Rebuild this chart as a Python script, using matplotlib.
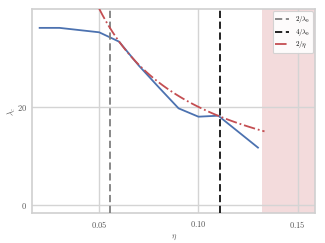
import numpy as np
import matplotlib
matplotlib.use("Agg")
import matplotlib.pyplot as plt

eta = [0.02, 0.03, 0.05, 0.06, 0.07, 0.08, 0.09, 0.10, 0.11, 0.13]
lam_c = [36.1, 36.1, 35.2, 33.3, 28.4, 24.0, 19.7, 18.0, 18.2, 11.7]
lam0 = 36.0
eta_curve = np.linspace(0.05, 0.1333, 50)
xticks = [0.05, 0.10, 0.15]
xticklabels = ["0.05", "0.10", "0.15"]
yticks = [0, 20]
shade_start = 0.132

plt.rcParams.update({
    "font.family": "serif",
    "font.serif": ["DejaVu Serif"],
    "mathtext.fontset": "cm",
    "axes.edgecolor": "#d0d0d0",
    "axes.linewidth": 1.2,
    "grid.color": "#d4d4d4",
    "grid.linewidth": 1.0,
})

fig = plt.figure(figsize=(3.25, 2.43), dpi=100)
ax = fig.add_axes([0.0994, 0.122, 0.8696, 0.84])

ax.axvspan(shade_start, 0.16, color="#c44e52", alpha=0.2, lw=0, zorder=0)
ax.plot(eta, lam_c, color="#4c72b0", lw=1.3, zorder=3)
ax.axvline(2 / lam0, color="#7f7f7f", ls=(0, (4, 2)), lw=1.3, label=r"$2/\lambda_0$", zorder=4)
ax.axvline(4 / lam0, color="#111111", ls=(0, (4, 2)), lw=1.3, label=r"$4/\lambda_0$", zorder=4)
ax.plot(eta_curve, 2 / eta_curve, color="#c44e52", ls="-.", lw=1.3, label=r"$2/\eta$", zorder=4)

ax.set_xlim(0.0163, 0.1587)
ax.set_ylim(-1.7, 39.9)
ax.set_xticks(xticks)
ax.set_xticklabels(["$" + t + "$" for t in xticklabels])
ax.set_yticks(yticks)
ax.set_yticklabels(["$%d$" % v for v in yticks])
ax.grid(True, zorder=1)
ax.set_axisbelow(True)
ax.tick_params(length=0, labelsize=6, colors="#555555", pad=4)
ax.set_xlabel(r"$\eta$", fontsize=6, color="#555555", labelpad=2)
ax.set_ylabel(r"$\lambda_c$", fontsize=6, color="#555555", labelpad=-1)
for s in ax.spines.values():
    s.set_color("#d0d0d0")

leg = ax.legend(loc="upper right", fontsize=5, frameon=True, framealpha=0.9,
                edgecolor="#d0d0d0", handlelength=2.0, borderpad=0.4,
                labelspacing=0.3, borderaxespad=0.3)
leg.get_frame().set_linewidth(0.8)

fig.savefig("out.png", dpi=100)
